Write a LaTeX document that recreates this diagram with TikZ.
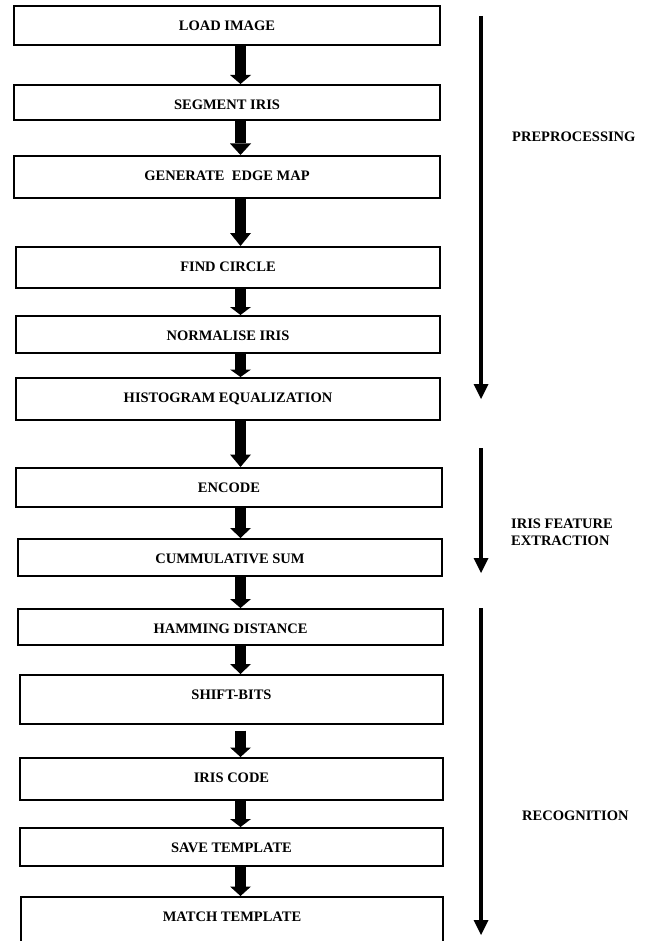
\documentclass[tikz,border=0pt]{standalone}
\usepackage{fontspec}
\setmainfont{Liberation Serif}
\usetikzlibrary{arrows.meta}
\begin{document}
\begin{tikzpicture}[x=1pt,y=-1pt,
  flowbox/.style={draw=black, line width=1.6pt, fill=white, anchor=north,
    inner xsep=0pt, inner ysep=0pt, text height=25pt,
    font=\fontsize{14.5}{17}\selectfont\bfseries},
  blockarrow/.style={line width=10.5pt, -{Triangle[width=21pt,length=#1,line width=0pt]}},
  blockarrow/.default=10pt,
  phasearrow/.style={line width=3.6pt, -{Triangle[width=15pt,length=15pt,line width=0pt]}},
  phaselabel/.style={inner sep=0pt, font=\fontsize{14.5}{17}\selectfont\bfseries}
]
\useasboundingbox (0,0) rectangle (645,941);
\fill[white] (0,0) rectangle (645,941);
\clip (0,0) rectangle (645,941);

% process boxes
\node[flowbox, minimum width=426pt, text depth=14pt]   (b1)  at (227,5)     {LOAD IMAGE};
\node[flowbox, minimum width=426pt, text depth=10pt]   (b2)  at (227,84)    {SEGMENT IRIS};
\node[flowbox, minimum width=426pt, text depth=17.5pt] (b3)  at (227,155)   {GENERATE~~EDGE MAP};
\node[flowbox, minimum width=424pt, text depth=16pt]   (b4)  at (228,246)   {FIND CIRCLE};
\node[flowbox, minimum width=424pt, text depth=12pt]   (b5)  at (228,315)   {NORMALISE IRIS};
\node[flowbox, minimum width=424pt, text depth=17pt]   (b6)  at (228,377)   {HISTOGRAM EQUALIZATION};
\node[flowbox, minimum width=426pt, text depth=14pt]   (b7)  at (229,467)   {ENCODE};
\node[flowbox, minimum width=424pt, text depth=12pt]   (b8)  at (230,538)   {CUMMULATIVE SUM};
\node[flowbox, minimum width=425pt, text depth=11pt]   (b9)  at (230.5,608) {HAMMING DISTANCE};
\node[flowbox, minimum width=423pt, text depth=24pt]   (b10) at (231.5,674) {SHIFT-BITS};
\node[flowbox, minimum width=423pt, text depth=17pt]   (b11) at (231.5,757) {IRIS CODE};
\node[flowbox, minimum width=423pt, text depth=13pt]   (b12) at (231.5,827) {SAVE TEMPLATE};
\node[flowbox, minimum width=422pt, text depth=60pt]   (b13) at (232,896)   {MATCH TEMPLATE};

% block arrows between boxes
\coordinate (ax) at (240.5,0);
\coordinate (b10out) at ([yshift=-6pt]b10.south);
\draw[blockarrow=9pt]    (b1.south -| ax)  -- (b2.north -| ax);
\draw[blockarrow=11.5pt] (b2.south -| ax)  -- (b3.north -| ax);
\draw[blockarrow=13pt]   (b3.south -| ax)  -- (b4.north -| ax);
\draw[blockarrow=8pt]    (b4.south -| ax)  -- (b5.north -| ax);
\draw[blockarrow=7.5pt]  (b5.south -| ax)  -- (b6.north -| ax);
\draw[blockarrow=12.5pt] (b6.south -| ax)  -- (b7.north -| ax);
\draw[blockarrow=10pt]   (b7.south -| ax)  -- (b8.north -| ax);
\draw[blockarrow=9pt]    (b8.south -| ax)  -- (b9.north -| ax);
\draw[blockarrow=10pt]   (b9.south -| ax)  -- (b10.north -| ax);
\draw[blockarrow=9.5pt]  (b10out -| ax)    -- (b11.north -| ax);
\draw[blockarrow=8pt]    (b11.south -| ax) -- (b12.north -| ax);
\draw[blockarrow=9.5pt]  (b12.south -| ax) -- (b13.north -| ax);

% phase arrows
\coordinate (pretop) at (481,16);
\coordinate (prebot) at (481,399);
\coordinate (fetop)  at (481,448);
\coordinate (febot)  at (481,573);
\coordinate (rectop) at (481,608);
\coordinate (recbot) at (481,935);
\draw[phasearrow] (pretop) -- (prebot);
\draw[phasearrow] (fetop) -- (febot);
\draw[phasearrow] (rectop) -- (recbot);

% phase labels
\node[phaselabel, anchor=base west] (lpre) at (512,141.75) {PREPROCESSING};
\node[phaselabel, anchor=west, align=left] (lfe) at (511,532.3) {IRIS FEATURE\\EXTRACTION};
\node[phaselabel, anchor=base west] (lrec) at (522,820) {RECOGNITION};
\end{tikzpicture}
\end{document}
